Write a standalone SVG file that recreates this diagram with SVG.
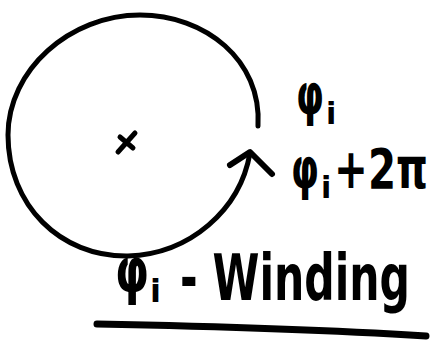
<svg xmlns="http://www.w3.org/2000/svg" width="432" height="343" viewBox="0 0 432 343">
<style>
.ink{fill:none;stroke:#000;stroke-linecap:round;stroke-linejoin:round}
.t{font-family:"DejaVu Sans","Liberation Sans",sans-serif;font-weight:bold;fill:#000}
</style>
<rect width="432" height="343" fill="#fff"/>
<g id="loop">
<path class="ink" stroke-width="5" d="M258,126 C262,60 205,15 140,15 C70,15 8,70 8,135 C8,205 60,257 128,256 C190,254 240,210 250,153"/>
<polyline class="ink" stroke-width="6" points="230,165 250,152 272,174"/>
</g>
<g id="center">
<path class="ink" stroke-width="5" d="M118,152 L135,133 M120,137 L133,148"/>
</g>
<g id="label-phi">
<text class="t" x="296" y="114" font-size="56" textLength="28" lengthAdjust="spacingAndGlyphs">φ</text>
<text class="t" x="326" y="124" font-size="30">i</text>
</g>
<g id="label-phi2pi">
<text class="t" x="291" y="188" font-size="56" textLength="28" lengthAdjust="spacingAndGlyphs">φ</text>
<text class="t" x="321" y="198" font-size="30">i</text>
<text class="t" x="334" y="188" font-size="56" textLength="94" lengthAdjust="spacingAndGlyphs">+2π</text>
</g>
<g id="title">
<text class="t" x="115" y="292" font-size="62" textLength="34" lengthAdjust="spacingAndGlyphs">φ</text>
<text class="t" x="150" y="302" font-size="32">i</text>
<text class="t" x="180" y="300" font-size="64" textLength="230" lengthAdjust="spacingAndGlyphs">- Winding</text>
<path class="ink" stroke-width="7" d="M97,324 C200,326 330,330 426,336"/>
</g>
</svg>
